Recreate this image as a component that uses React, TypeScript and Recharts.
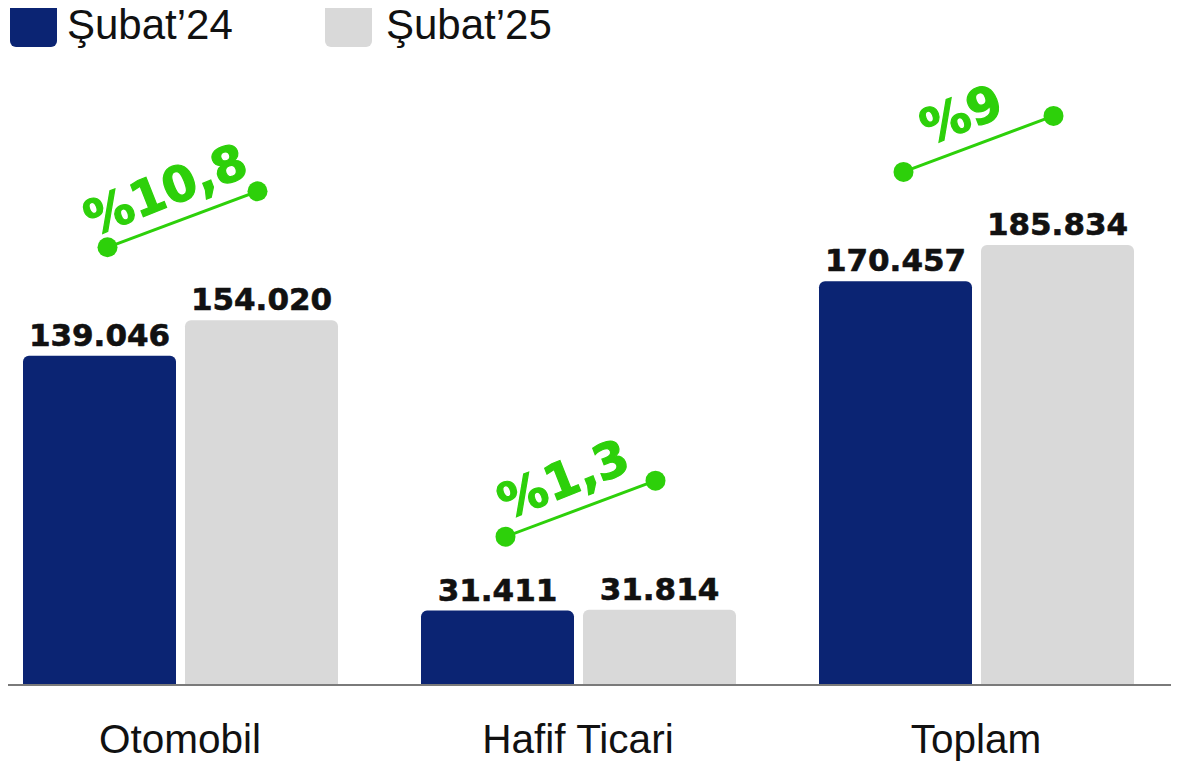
import { BarChart, Bar, XAxis, YAxis, LabelList, ReferenceLine } from "recharts";

const categories = ["Otomobil", "Hafif Ticari", "Toplam"];
const subat24 = [139046, 31411, 170457];
const subat25 = [154020, 31814, 185834];
const changeLabels = ["%10,8", "%1,3", "%9"];
const seriesNames = ["Şubat’24", "Şubat’25"];
const seriesColors = ["#0b2473", "#d9d9d9"];

const data = categories.map((name, i) => ({
  name,
  s24: subat24[i],
  s25: subat25[i],
  change: changeLabels[i],
}));

const GREEN = "#2dd00a";

const fmt = (v: number) => String(v).replace(/\B(?=(\d{3})+(?!\d))/g, ".");

function CategoryTick(props: any) {
  const { x, y, payload } = props;
  return (
    <text
      x={x}
      y={y + 60}
      textAnchor="middle"
      fontFamily="'Liberation Sans', Arial, sans-serif"
      fontSize={40.5}
      fill="#111"
    >
      {payload.value}
    </text>
  );
}

// Yüzde değişim oku: ikinci çubuğun üstünden hesaplanır
function ChangeMark(props: any) {
  const { x, y, width, index } = props;
  const endX = x + width / 2 - 4;
  const endY = y - 129;
  const startX = endX - 150;
  const startY = endY + 56;
  const mx = (startX + endX) / 2 - 17;
  const my = (startY + endY) / 2 - 29;
  const angle = (Math.atan2(endY - startY, endX - startX) * 180) / Math.PI;
  return (
    <g>
      <line x1={startX} y1={startY} x2={endX} y2={endY} stroke={GREEN} strokeWidth={3} />
      <circle cx={startX} cy={startY} r={10} fill={GREEN} />
      <circle cx={endX} cy={endY} r={10} fill={GREEN} />
      <text
        x={mx}
        y={my}
        textAnchor="middle"
        dominantBaseline="central"
        transform={`rotate(${angle - 1} ${mx} ${my})`}
        fontFamily="'DejaVu Sans', sans-serif"
        fontWeight="bold"
        fontSize={49}
        stroke={GREEN}
        strokeWidth={1.2}
        fill={GREEN}
      >
        {data[index].change}
      </text>
    </g>
  );
}

const valueLabelStyle = {
  fontFamily: "'DejaVu Sans', sans-serif",
  fontWeight: "bold" as const,
  fontSize: 31,
  fill: "#111",
  stroke: "#111",
  strokeWidth: 0.6,
};

export default function App() {
  return (
    <div
      style={{
        position: "relative",
        width: 1179,
        height: 769,
        margin: -8,
        overflow: "hidden",
        background: "#fff",
      }}
    >
      {seriesNames.map((n, i) => (
        <div key={n}>
          <div
            style={{
              position: "absolute",
              left: 10 + i * 315,
              top: 0,
              width: 47,
              height: 47,
              borderRadius: 6,
              background: seriesColors[i],
            }}
          />
          <div
            style={{
              position: "absolute",
              left: 67 + i * 319,
              top: 1,
              fontFamily: "'Liberation Sans', Arial, sans-serif",
              fontSize: 42,
              lineHeight: 1.12,
              color: "#111",
              whiteSpace: "nowrap",
            }}
          >
            {n}
          </div>
        </div>
      ))}
      <div style={{ position: "absolute", left: 0, top: 0 }}>
        <BarChart
          width={1179}
          height={769}
          data={data}
          margin={{ top: 93, right: 0, left: 0, bottom: 0 }}
          barSize={153}
          barGap={9}
        >
          <XAxis
            dataKey="name"
            height={84}
            tickLine={false}
            padding={{ left: -19, right: 4 }}
            axisLine={false}
            tick={<CategoryTick />}
            interval={0}
          />
          <YAxis hide domain={[0, 250000]} />
          <Bar dataKey="s24" fill={seriesColors[0]} radius={[6, 6, 0, 0]} isAnimationActive={false}>
            <LabelList dataKey="s24" position="top" offset={10} formatter={(v: number) => fmt(v)} style={valueLabelStyle} />
          </Bar>
          <Bar dataKey="s25" fill={seriesColors[1]} radius={[6, 6, 0, 0]} isAnimationActive={false}>
            <LabelList dataKey="s25" position="top" offset={10} formatter={(v: number) => fmt(v)} style={valueLabelStyle} />
            <LabelList dataKey="change" content={<ChangeMark />} />
          </Bar>
          <ReferenceLine y={0} stroke="#7a7a7a" strokeWidth={2} ifOverflow="visible" />
        </BarChart>
      </div>
    </div>
  );
}
